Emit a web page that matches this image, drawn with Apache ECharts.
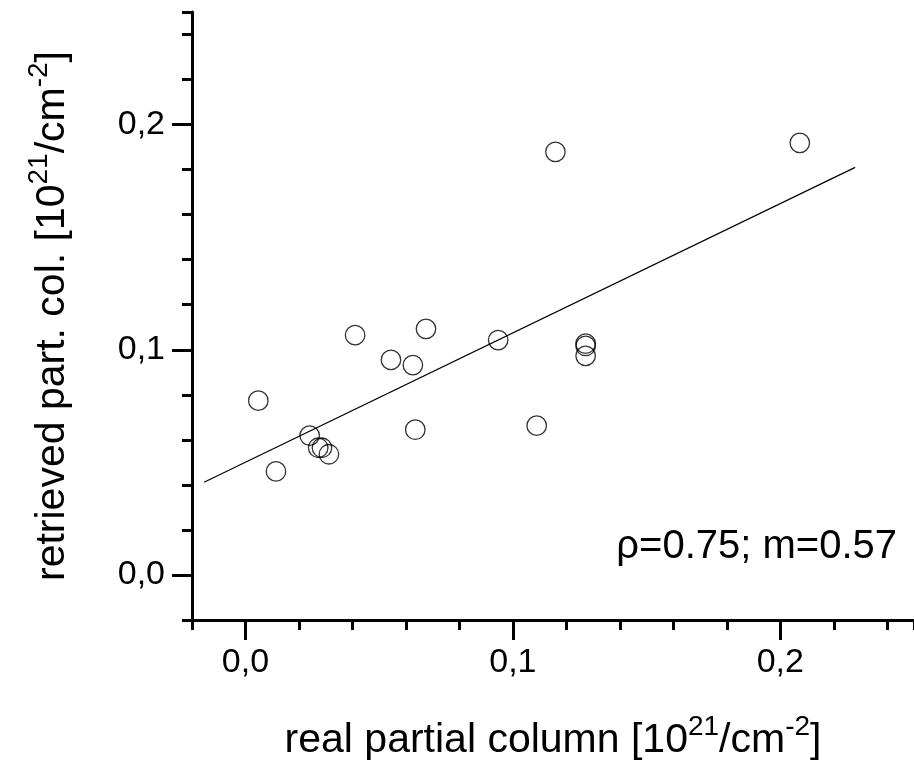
<!DOCTYPE html>
<html>
<head>
<meta charset="utf-8">
<script src="https://cdn.jsdelivr.net/npm/echarts@6/dist/echarts.min.js"></script>
<style>
html,body{margin:0;padding:0;background:#fff;}
#chart{width:914px;height:774px;}
</style>
</head>
<body>
<div id="chart"></div>
<script>
// real partial column [10^21/cm^-2]
const realCol = [0.0048, 0.0114, 0.0240, 0.0272, 0.0286, 0.0312, 0.0410, 0.0544, 0.0626, 0.0635, 0.0675, 0.0945, 0.1089, 0.1159, 0.1272, 0.1272, 0.1272, 0.2073];
// retrieved partial column [10^21/cm^-2]
const retrievedCol = [0.0774, 0.0460, 0.0619, 0.0565, 0.0565, 0.0536, 0.1065, 0.0955, 0.0932, 0.0645, 0.1093, 0.1043, 0.0663, 0.1879, 0.1027, 0.1017, 0.0973, 0.1919];
// regression line end points
const fitX = [-0.0155, 0.228];
const fitY = [0.0412, 0.181];
const majorTicks = [0, 0.1, 0.2];
const annotation = 'ρ=0.75; m=0.57';

const FONT = 'Liberation Sans, Arial, sans-serif';
const fmt = v => v.toFixed(1).replace('.', ',');
const richTitle = {
  m: {fontSize: 41, lineHeight: 44, fontFamily: FONT, color: '#000'},
  s: {fontSize: 28, lineHeight: 44, fontFamily: FONT, color: '#000', padding: [0, 0, 28, 0]}
};

const chart = echarts.init(document.getElementById('chart'), null, {renderer: 'canvas'});

const scatterData = realCol.map((x, i) => [x, retrievedCol[i]]);
const fitData = fitX.map((x, i) => [x, fitY[i]]);

const minorAxis = (isX) => ({
  type: 'value', min: -0.02, max: 0.25, interval: 0.02,
  position: isX ? 'bottom' : 'left',
  axisLine: {show: true, onZero: false, lineStyle: {color: '#000', width: 3}},
  axisTick: {show: true, inside: false, length: 10, lineStyle: {color: '#000', width: 3}},
  axisLabel: {show: false},
  splitLine: {show: false}
});
const majorAxis = (isX) => ({
  type: 'value', min: -0.02, max: 0.25,
  position: isX ? 'bottom' : 'left',
  axisLine: {show: false, onZero: false},
  axisTick: {show: true, inside: false, length: 20, customValues: majorTicks, lineStyle: {color: '#000', width: 3}},
  axisLabel: {show: true, customValues: majorTicks, formatter: fmt, fontSize: 34, fontFamily: FONT, color: '#000', margin: isX ? 26 : 27},
  splitLine: {show: false},
  name: isX ? '{m|real partial column [10}{s|21}{m|/cm}{s|-2}{m|]}' : '{m|retrieved part. col. [10}{s|21}{m|/cm}{s|-2}{m|]}',
  nameLocation: 'middle',
  nameGap: isX ? 99 : 117,
  nameRotate: isX ? 0 : 90,
  nameTextStyle: {rich: richTitle, fontSize: 41, fontFamily: FONT, color: '#000'}
});

chart.setOption({
  animation: false,
  backgroundColor: '#fff',
  grid: {left: 192, top: 12, width: 726.7, height: 618, containLabel: false},
  xAxis: [minorAxis(true), majorAxis(true)],
  yAxis: [minorAxis(false), majorAxis(false)],
  series: [
    {
      type: 'line', xAxisIndex: 0, yAxisIndex: 0, data: fitData,
      showSymbol: false, symbol: 'none',
      lineStyle: {color: '#000', width: 1.2}, silent: true
    },
    {
      type: 'scatter', xAxisIndex: 0, yAxisIndex: 0, data: scatterData,
      symbol: 'circle', symbolSize: 19.5,
      itemStyle: {color: 'rgba(0,0,0,0)', borderColor: '#000', borderWidth: 1.3}
    }
  ],
  graphic: [{
    type: 'text', right: 17, top: 527,
    style: {text: annotation, fontSize: 40, fontFamily: FONT, fill: '#000'}
  }]
});
</script>
</body>
</html>
